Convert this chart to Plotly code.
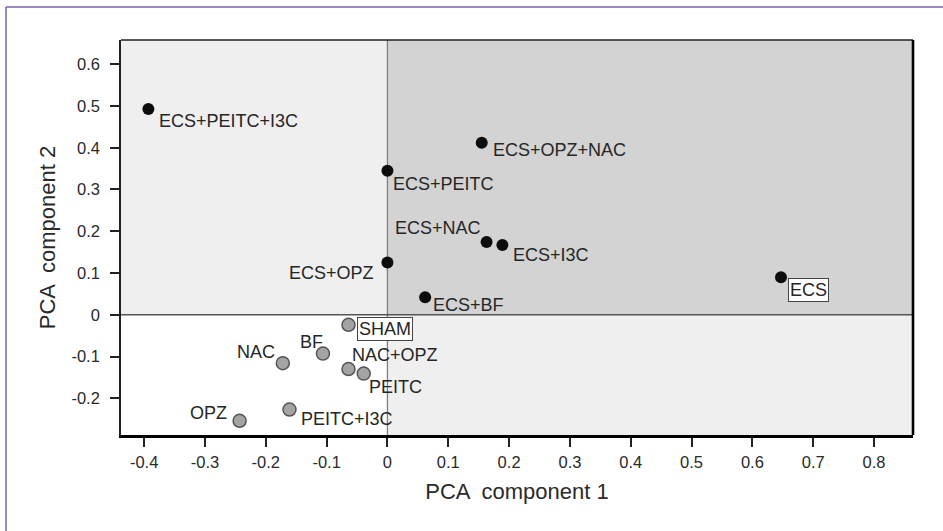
import plotly.graph_objects as go

# ---- data ----
ecs_names = ["ECS+PEITC+I3C", "ECS+OPZ+NAC", "ECS+PEITC", "ECS+NAC", "ECS+I3C",
             "ECS+OPZ", "ECS+BF", "ECS"]
ecs_pc1 = [-0.393, 0.155, 0.000, 0.163, 0.189, 0.000, 0.062, 0.647]
ecs_pc2 = [0.493, 0.412, 0.345, 0.174, 0.167, 0.125, 0.042, 0.090]

ctrl_names = ["SHAM", "BF", "NAC", "NAC+OPZ", "PEITC", "PEITC+I3C", "OPZ"]
ctrl_pc1 = [-0.064, -0.106, -0.172, -0.064, -0.039, -0.161, -0.243]
ctrl_pc2 = [-0.024, -0.093, -0.116, -0.130, -0.141, -0.227, -0.254]

x_ticks = [-0.4, -0.3, -0.2, -0.1, 0, 0.1, 0.2, 0.3, 0.4, 0.5, 0.6, 0.7, 0.8]
x_tick_labels = ["-0.4", "-0.3", "-0.2", "-0.1", "0", "0.1", "0.2", "0.3", "0.4",
                 "0.5", "0.6", "0.7", "0.8"]
y_ticks = [-0.2, -0.1, 0, 0.1, 0.2, 0.3, 0.4, 0.5, 0.6]
y_tick_labels = ["-0.2", "-0.1", "0", "0.1", "0.2", "0.3", "0.4", "0.5", "0.6"]

# ---- label placement (style): anchor, x shift px, y shift px (screen, down +), boxed ----
label_style = {
    "ECS+PEITC+I3C": ("left", 9, 12, False),
    "ECS+OPZ+NAC": ("left", 9, 7, False),
    "ECS+PEITC": ("left", 4, 13, False),
    "ECS+NAC": ("right", -4, -14, False),
    "ECS+I3C": ("left", 9, 10, False),
    "ECS+OPZ": ("right", -11, 10, False),
    "ECS+BF": ("left", 6, 8, False),
    "ECS": ("left", 7, 13, True),
    "SHAM": ("left", 8, 4, True),
    "BF": ("right", 2, -12, False),
    "NAC": ("right", -6, -11, False),
    "NAC+OPZ": ("left", 1, -14, False),
    "PEITC": ("left", 3, 13, False),
    "PEITC+I3C": ("left", 9, 9, False),
    "OPZ": ("right", -11, -8, False),
}

FONT = "Liberation Sans, Arial, sans-serif"
XR = [-0.438, 0.864]
YR = [-0.288, 0.658]

fig = go.Figure()

fig.add_trace(go.Scatter(
    x=ctrl_pc1, y=ctrl_pc2, mode="markers", name="controls",
    marker=dict(size=13, color="#a4a4a4", line=dict(color="#555555", width=1.5)),
    text=ctrl_names, hoverinfo="text+x+y"))
fig.add_trace(go.Scatter(
    x=ecs_pc1, y=ecs_pc2, mode="markers", name="ECS",
    marker=dict(size=12, color="#0d0d0d", line=dict(width=0)),
    text=ecs_names, hoverinfo="text+x+y"))

annotations = []
for names, xs, ys in ((ecs_names, ecs_pc1, ecs_pc2), (ctrl_names, ctrl_pc1, ctrl_pc2)):
    for n, xv, yv in zip(names, xs, ys):
        anc, dx, dy, boxed = label_style[n]
        a = dict(x=xv, y=yv, xref="x", yref="y", text=n, showarrow=False,
                 xanchor=anc, yanchor="middle", xshift=dx, yshift=-dy,
                 font=dict(family=FONT, size=18, color="#262626"))
        if boxed:
            a.update(bgcolor="#ffffff", bordercolor="#444444", borderwidth=1,
                     borderpad=1)
        annotations.append(a)

W, H = 943, 531
ML, MR, MT, MB = 121, 30, 40, 95.5
pw = W - ML - MR
ph = H - MT - MB
frame_x = (6 - ML) / pw
frame_y = 1 + (MT - 7) / ph

shapes = [
    # quadrant backgrounds
    dict(type="rect", xref="x", yref="y", x0=XR[0], x1=0, y0=0, y1=YR[1],
         fillcolor="#efefef", line=dict(width=0), layer="below"),
    dict(type="rect", xref="x", yref="y", x0=0, x1=XR[1], y0=0, y1=YR[1],
         fillcolor="#d3d3d3", line=dict(width=0), layer="below"),
    dict(type="rect", xref="x", yref="y", x0=0, x1=XR[1], y0=YR[0], y1=0,
         fillcolor="#efefef", line=dict(width=0), layer="below"),
    # zero lines
    dict(type="line", xref="x", yref="y", x0=0, x1=0, y0=YR[0], y1=YR[1],
         line=dict(color="#808080", width=1.3), layer="below"),
    dict(type="line", xref="x", yref="y", x0=XR[0], x1=XR[1], y0=0, y1=0,
         line=dict(color="#555555", width=1.3), layer="below"),
    # top and right frame
    dict(type="line", xref="paper", yref="paper", x0=0, x1=1, y0=1, y1=1,
         line=dict(color="#222222", width=1.6)),
    dict(type="line", xref="paper", yref="paper", x0=1, x1=1, y0=0, y1=1,
         line=dict(color="#000000", width=2.6)),
    # outer purple frame (top and left)
    dict(type="line", xref="paper", yref="paper", x0=frame_x, x1=1.05, y0=frame_y, y1=frame_y,
         line=dict(color="#7b62ad", width=1.5)),
    dict(type="line", xref="paper", yref="paper", x0=frame_x, x1=frame_x, y0=-0.3, y1=frame_y,
         line=dict(color="#7b62ad", width=1.5)),
]

fig.update_layout(
    width=W, height=H,
    margin=dict(l=ML, r=MR, t=MT, b=MB),
    paper_bgcolor="#ffffff", plot_bgcolor="#ffffff",
    showlegend=False,
    font=dict(family=FONT, color="#2a2a2a"),
    annotations=annotations, shapes=shapes,
    xaxis=dict(range=XR, tickvals=x_ticks, ticktext=x_tick_labels,
               ticks="outside", ticklen=9, tickwidth=1.5, tickcolor="#222222",
               showgrid=False, zeroline=False, showline=True, linecolor="#000000",
               linewidth=2.6, tickfont=dict(size=16.5, color="#2a2a2a"),
               ticklabelstandoff=1,
               title=dict(text="PCA  component 1", font=dict(size=22, color="#2a2a2a"),
                          standoff=15)),
    yaxis=dict(range=YR, tickvals=y_ticks, ticktext=y_tick_labels,
               ticks="outside", ticklen=9, tickwidth=1.5, tickcolor="#222222",
               showgrid=False, zeroline=False, showline=True, linecolor="#222222",
               linewidth=1.6, tickfont=dict(size=16.5, color="#2a2a2a"),
               ticklabelstandoff=7,
               title=dict(text="PCA  component 2", font=dict(size=22, color="#2a2a2a"),
                          standoff=10)),
)

# remove the default 8px page margin so the 943x531 figure fills the window exactly
fig.write_html(
    "out.html",
    config={"displayModeBar": False},
    post_script="document.documentElement.style.margin='0';"
                "document.body.style.margin='0';document.body.style.overflow='hidden';",
)
